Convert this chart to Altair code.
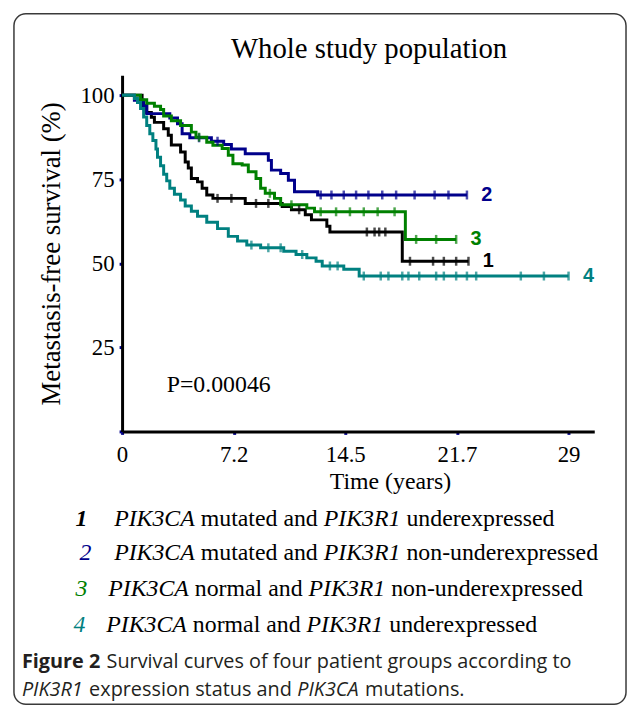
import altair as alt
import pandas as pd

# ---------------- data ----------------
groups = ["1", "2", "3", "4"]
group_colors = ["#000000", "#00008b", "#008000", "#008080"]

# Kaplan-Meier step curves: event time (years) and survival (%) after the event
g1_t = [0, 1.3, 1.6, 1.9, 2.1, 2.7, 3.0, 3.2, 3.8, 4.1, 4.3, 4.5, 4.9, 5.2, 5.5, 5.9, 8.0, 10.4, 11.0, 11.9, 12.3, 13.3, 13.5, 18.2, 22.5]
g1_s = [100, 96.9, 94.8, 93.4, 91.9, 90.0, 88.1, 85.2, 83.1, 80.1, 78.3, 75.2, 74.2, 72.3, 70.3, 69.3, 67.8, 66.9, 65.9, 64.4, 62.9, 61.0, 59.3, 50.6, 50.6]

g2_t = [0, 0.8, 1.4, 1.6, 3.1, 3.6, 3.9, 4.4, 5.8, 6.6, 7.1, 8.0, 9.5, 9.7, 10.3, 10.8, 11.2, 12.7, 22.4]
g2_s = [100, 98.5, 96.9, 94.5, 93.2, 91.5, 88.5, 87.3, 86.3, 85.3, 84.0, 82.6, 80.6, 77.7, 76.7, 74.7, 71.3, 70.3, 70.3]

g3_t = [0, 1.2, 1.6, 2.1, 2.5, 2.7, 3.2, 3.8, 4.5, 4.8, 5.5, 5.9, 6.5, 6.9, 7.2, 7.8, 8.2, 8.7, 9.0, 9.3, 9.9, 10.3, 12.0, 12.5, 18.4, 21.7]
g3_s = [100, 98.6, 97.6, 96.7, 95.7, 93.8, 92.4, 91.0, 89.0, 87.5, 86.0, 85.1, 84.1, 82.1, 79.6, 79.2, 77.2, 75.2, 72.3, 70.8, 69.3, 67.4, 66.4, 65.3, 57.1, 57.1]

g4_t = [0, 0.8, 1.0, 1.2, 1.4, 1.6, 1.8, 2.0, 2.2, 2.3, 2.5, 2.7, 2.9, 3.1, 3.4, 3.8, 4.1, 4.5, 4.9, 5.5, 6.2, 6.9, 7.5, 8.1, 9.0, 10.5, 11.3, 12.0, 12.6, 13.0, 14.4, 15.4, 29.0]
g4_s = [100, 99.0, 97.8, 96.0, 93.5, 91.0, 88.5, 86.5, 84.0, 81.5, 79.0, 76.5, 74.5, 72.3, 70.5, 68.8, 67.0, 65.5, 64.0, 62.2, 60.3, 58.0, 56.6, 55.4, 54.6, 53.6, 52.6, 51.6, 50.6, 49.2, 48.2, 46.2, 46.2]

# censored observations (years)
g1_c = [6.2, 7.1, 8.7, 9.5, 11.5, 15.9, 16.4, 16.7, 17.1, 18.7, 20.2, 20.9, 21.7, 22.5]
g2_c = [5.0, 6.2, 12.9, 13.6, 14.4, 15.2, 16.0, 16.9, 17.8, 19.0, 20.3, 21.2, 22.4]
g3_c = [5.0, 9.6, 11.0, 12.9, 13.9, 14.8, 15.7, 16.6, 17.7, 19.1, 20.4, 21.7]
g4_c = [8.4, 9.5, 10.3, 11.7, 13.5, 14.0, 15.7, 16.8, 17.3, 18.2, 18.6, 19.3, 20.4, 20.9, 21.7, 22.4, 23.0, 25.9, 27.4, 29.0]

x_tick_values = [0, 7.25, 14.5, 21.75, 29]
x_tick_labels = ["0", "7.2", "14.5", "21.7", "29"]
y_tick_values = [0, 25, 50, 75, 100]
y_tick_labels = ["", "25", "50", "75", "100"]

title_text = "Whole study population"
p_text = "P=0.00046"
x_title = "Time (years)"
y_title = "Metastasis-free survival (%)"

legend_lines = [
    ("1", [("PIK3CA", "i"), (" mutated and ", "r"), ("PIK3R1", "i"), (" underexpressed", "r")]),
    ("2", [("PIK3CA", "i"), (" mutated and ", "r"), ("PIK3R1", "i"), (" non-underexpressed", "r")]),
    ("3", [("PIK3CA", "i"), (" normal and ", "r"), ("PIK3R1", "i"), (" non-underexpressed", "r")]),
    ("4", [("PIK3CA", "i"), (" normal and ", "r"), ("PIK3R1", "i"), (" underexpressed", "r")]),
]
caption_lines = [
    [("Figure 2", "b"), (" Survival curves of four patient groups according to", "r")],
    [("PIK3R1", "i"), (" expression status and ", "r"), ("PIK3CA", "i"), (" mutations.", "r")],
]

# ---------------- tables ----------------
curves = [(g1_t, g1_s, g1_c), (g2_t, g2_s, g2_c), (g3_t, g3_s, g3_c), (g4_t, g4_s, g4_c)]
line_rows, cens_rows, end_rows = [], [], []
for g, (ts, ss, cs) in zip(groups, curves):
    for t, s in zip(ts, ss):
        line_rows.append({"g": g, "t": t, "s": s})
    for c in cs:
        idx = max(i for i, t in enumerate(ts) if t <= c)
        cens_rows.append({"g": g, "t": c, "s": ss[idx]})
    end_rows.append({"g": g, "t": ts[-1], "s": ss[-1]})
df_lines = pd.DataFrame(line_rows)
df_cens = pd.DataFrame(cens_rows)
df_end = pd.DataFrame(end_rows)
one = pd.DataFrame({"k": [0]})

# ---------------- layout ----------------
W, H = 476, 359
PAD = {"left": 115, "top": 65, "right": 33, "bottom": 276}
OX, OY = 8 + PAD["left"], 8 + PAD["top"]   # page position of plot origin


def px(v):
    return v - OX


def py(v):
    return v - OY


SERIF = "Liberation Serif"
SANS = "Liberation Sans"
CAP = "Open Sans"

TIMES = {
    "r": {" ": 250, "-": 333, "a": 444, "d": 500, "e": 444, "l": 278, "m": 778, "n": 500,
          "o": 500, "p": 500, "r": 333, "s": 389, "t": 278, "u": 500, "x": 500},
    "i": {"P": 611, "I": 333, "K": 667, "3": 500, "C": 667, "A": 611, "R": 611, "1": 500, " ": 250},
}
OPEN = {
    "r": {" ": 260, ".": 268, "S": 549, "a": 556, "c": 476, "d": 613, "e": 561, "f": 336,
          "g": 546, "i": 258, "l": 258, "m": 932, "n": 614, "o": 604, "p": 613, "r": 408,
          "s": 477, "t": 353, "u": 614, "v": 500, "x": 523},
    "b": {" ": 260, "F": 575, "i": 297, "g": 586, "u": 659, "r": 464, "e": 594, "2": 572},
    "i": {"P": 570, "I": 270, "K": 560, "3": 572, "R": 585, "1": 572, "C": 600, "A": 590},
}


def txt(text, x, y, **kw):
    return alt.Chart(one).mark_text(**kw).encode(
        x=alt.value(x), y=alt.value(y), text=alt.value(text))


def runs_layers(runs, x0, y, size, metrics, font, color):
    out = []
    x = x0
    for text, st in runs:
        table = metrics[st]
        lead = len(text) - len(text.lstrip(" "))
        trail = len(text) - len(text.rstrip(" "))
        core = text.strip(" ")
        x += lead * table.get(" ", 250) / 1000 * size
        out.append(txt(core, x, y, align="left", baseline="alphabetic", font=font, fontSize=size,
                       fontStyle="italic" if st == "i" else "normal",
                       fontWeight="bold" if st == "b" else "normal", color=color))
        x += sum(table.get(ch, 500) for ch in core) / 1000 * size
        x += trail * table.get(" ", 250) / 1000 * size
    return out


# ---------------- chart ----------------
color = alt.Color("g:N", scale=alt.Scale(domain=groups, range=group_colors), legend=None)

x_expr = " : ".join(f"datum.value == {v} ? '{l}'" for v, l in zip(x_tick_values, x_tick_labels)) + " : ''"
y_expr = " : ".join(f"datum.value == {v} ? '{l}'" for v, l in zip(y_tick_values, y_tick_labels)) + " : ''"

axis_common = dict(domainColor="black", domainWidth=3, tickColor="#00008b", tickSize=3, tickWidth=3,
                   labelFont=SERIF, labelFontSize=23, labelColor="black", titleFont=SERIF,
                   titleFontWeight="normal", titleColor="black", grid=False, labelFlush=False,
                   labelOverlap=False)

x_enc = alt.X("t:Q", scale=alt.Scale(domain=[0, 30.67], nice=False),
              axis=alt.Axis(values=x_tick_values, labelExpr=x_expr, title=x_title, labelPadding=9,
                            titleFontSize=24, titleX=270, titleY=58, titleBaseline="alphabetic",
                            **axis_common))
y_enc = alt.Y("s:Q", scale=alt.Scale(domain=[0, 105.9], nice=False),
              axis=alt.Axis(values=y_tick_values, labelExpr=y_expr, title=y_title, labelPadding=5,
                            titleFontSize=27, titleX=-63, titleBaseline="alphabetic", **axis_common))

lines = alt.Chart(df_lines).mark_line(interpolate="step-after", strokeWidth=3).encode(
    x=x_enc, y=y_enc, color=color)
cens = alt.Chart(df_cens).mark_tick(orient="vertical", size=9, thickness=2.5).encode(
    x="t:Q", y="s:Q", color=color)
ends = alt.Chart(df_end).mark_text(align="center", baseline="middle", dx=20, font=SANS,
                                    fontSize=20, fontWeight="bold").encode(
    x="t:Q", y="s:Q", text="g:N", color=color)

border = alt.Chart(one).mark_rect(filled=False, stroke="#3a3a3a", strokeWidth=1.5, cornerRadius=12).encode(
    x=alt.value(px(14)), x2=alt.value(px(631)), y=alt.value(py(11)), y2=alt.value(py(707)))

layers = [border, lines, cens, ends]
layers.append(txt(title_text, px(372), py(56), align="center", baseline="alphabetic",
                  font=SERIF, fontSize=29, color="black"))
layers.append(txt(p_text, px(168), py(392), align="left", baseline="alphabetic",
                  font=SERIF, fontSize=24, color="black"))

legend_baselines = [527, 562, 598, 634]
legend_num_x = [82, 86, 82, 80]
legend_text_x = [115, 115, 109, 107]
for (num, runs), yb, nx, tx, col in zip(legend_lines, legend_baselines, legend_num_x, legend_text_x, group_colors):
    layers.append(txt(num, px(nx), py(yb), align="center", baseline="alphabetic", font=SERIF,
                      fontSize=24, fontStyle="italic", fontWeight="bold" if num == "1" else "normal",
                      color=col))
    layers += runs_layers(runs, px(tx), py(yb), 24, TIMES, SERIF, "black")

caption_baselines = [671, 698.5]
for runs, yb in zip(caption_lines, caption_baselines):
    layers += runs_layers(runs, px(22), py(yb), 20, OPEN, CAP, "#231f20")

chart = alt.layer(*layers).properties(
    width=W, height=H, padding=PAD, autosize=alt.AutoSizeParams(type="none")
).configure_view(stroke=None)

chart.save("out.html", embed_options={"renderer": "svg", "actions": False})
